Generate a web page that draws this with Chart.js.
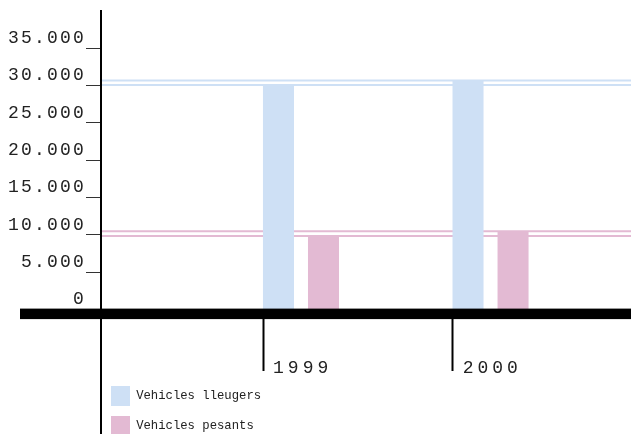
<!DOCTYPE html>
<html>
<head>
<meta charset="utf-8">
<script src="https://cdn.jsdelivr.net/npm/chart.js@4/dist/chart.umd.min.js"></script>
<style>
  html, body { margin: 0; padding: 0; background: #fff; overflow: hidden; }
  #chart { display: block; }
</style>
</head>
<body>
<!-- the canvas runs a little past the window so the axis and legend are cut at the bottom edge -->
<canvas id="chart" width="631" height="457"></canvas>
<script>
var years = [1999, 2000];
var yearLabels = ['1999', '2000'];
var seriesNames = ['Vehicles lleugers', 'Vehicles pesants'];
var lleugers = [30100, 30700];
var pesants = [9850, 10500];
var yTicks = [0, 5000, 10000, 15000, 20000, 25000, 30000, 35000];
var yTickLabels = ['0', '5.000', '10.000', '15.000', '20.000', '25.000', '30.000', '35.000'];

var blue = '#cee0f5';
var pink = '#e3bad3';
var monoFont = '"Liberation Mono", "DejaVu Sans Mono", monospace';

// horizontal range of the plot, the year ticks sit a bit left of each bar group
var X_MIN = 1997.945, X_MAX = 2000.741, TICK_SHIFT = 0.2;

function points(values) {
    return years.map(function (yr, i) { return { x: yr, y: values[i] }; });
}

// one thin level line per bar, across the whole plot
function levelLine(value, color) {
    return {
        type: 'line',
        data: [{ x: X_MIN, y: value }, { x: X_MAX, y: value }],
        borderColor: color,
        borderWidth: 2,
        pointRadius: 0,
        fill: false,
        xAxisID: 'x'
    };
}

function yearTicks(scale) {
    scale.ticks = years.map(function (v) { return { value: v }; });
}

// keep axes from reserving room for their label overhang
function noPadding(scale) {
    scale.paddingTop = scale.paddingBottom = 0;
    scale.paddingLeft = scale.paddingRight = 0;
}

var datasets = [
    {
        label: seriesNames[0],
        data: points(lleugers),
        backgroundColor: blue,
        borderWidth: 0,
        xAxisID: 'x',
        categoryPercentage: 0.475,
        barPercentage: 0.689
    },
    {
        label: seriesNames[1],
        data: points(pesants),
        backgroundColor: pink,
        borderWidth: 0,
        xAxisID: 'x',
        categoryPercentage: 0.475,
        barPercentage: 0.689
    }
];
lleugers.forEach(function (v) { datasets.push(levelLine(v, blue)); });
pesants.forEach(function (v) { datasets.push(levelLine(v, pink)); });

// letter-spaced tick labels on both axes
var spacedTicks = {
    id: 'spacedTicks',
    beforeDraw: function (chart) {
        [['y', '2.2px'], ['xYears', '4px']].forEach(function (p) {
            var scale = chart.scales[p[0]];
            if (!scale || scale._spaced) return;
            var drawLabels = scale.drawLabels;
            scale.drawLabels = function (area) {
                this.ctx.letterSpacing = p[1];
                drawLabels.call(this, area);
                this.ctx.letterSpacing = '0px';
            };
            scale._spaced = true;
        });
    }
};

// heavy base line under the zero level
var baseBar = {
    id: 'baseBar',
    afterDraw: function (chart) {
        var ctx = chart.ctx;
        var y0 = chart.scales.y.getPixelForValue(0);
        ctx.save();
        ctx.fillStyle = '#000';
        ctx.fillRect(20, y0 - 1, chart.chartArea.right - 20, 10.5);
        ctx.restore();
    }
};

var chart = new Chart(document.getElementById('chart').getContext('2d'), {
    type: 'bar',
    data: { datasets: datasets },
    plugins: [spacedTicks, baseBar],
    options: {
        responsive: false,
        animation: false,
        events: [],
        devicePixelRatio: 1,
        layout: { padding: { top: 11, right: 0, bottom: 0, left: 0 } },
        plugins: {
            tooltip: { enabled: false },
            legend: {
                position: 'chartArea',
                align: 'end',
                labels: {
                    filter: function (item) { return item.datasetIndex < 2; },
                    boxWidth: 19,
                    boxHeight: 20,
                    padding: 10,
                    color: '#222',
                    font: { family: monoFont, size: 12.25 }
                }
            }
        },
        scales: {
            x: {
                type: 'linear',
                display: false,
                offset: false,
                grid: { offset: false },
                min: X_MIN,
                max: X_MAX,
                afterBuildTicks: yearTicks,
                afterFit: noPadding
            },
            xYears: {
                type: 'linear',
                axis: 'x',
                position: { y: 0 },
                offset: false,
                min: X_MIN + TICK_SHIFT,
                max: X_MAX + TICK_SHIFT,
                afterBuildTicks: yearTicks,
                afterFit: function (s) { noPadding(s); s.height = 0; },
                border: { display: false },
                grid: {
                    offset: false,
                    drawOnChartArea: false,
                    drawTicks: true,
                    tickLength: 61,
                    tickWidth: 2,
                    tickColor: '#000'
                },
                ticks: {
                    align: 'start',
                    labelOffset: 10,
                    padding: -13,
                    maxRotation: 0,
                    autoSkip: false,
                    color: '#222',
                    font: { family: monoFont, size: 18 },
                    callback: function (v, i) { return yearLabels[i]; }
                }
            },
            y: {
                type: 'linear',
                position: 'left',
                min: -19745,
                max: 40000,
                afterBuildTicks: function (scale) {
                    scale.ticks = yTicks.map(function (v) { return { value: v }; });
                },
                afterFit: function (s) { noPadding(s); s.width = 101; },
                border: { display: true, color: '#000', width: 2, z: 1 },
                grid: {
                    drawOnChartArea: false,
                    drawTicks: true,
                    tickLength: 15,
                    tickWidth: 1,
                    tickColor: '#333'
                },
                ticks: {
                    padding: 0,
                    labelOffset: -10,
                    color: '#222',
                    font: { family: monoFont, size: 18 },
                    callback: function (v, i) { return yTickLabels[i]; }
                }
            }
        }
    }
});
</script>
</body>
</html>
